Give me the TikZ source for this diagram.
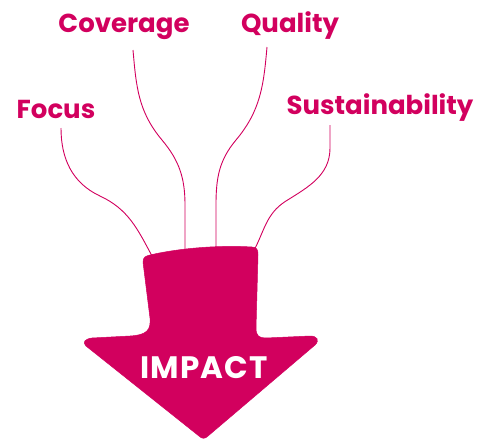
\documentclass[tikz,border=0pt]{standalone}
\usepackage{fontspec}
\setmainfont{Poppins}
\definecolor{impact}{HTML}{D2005E}
\tikzset{
  lbl/.style={text=impact, font=\fontsize{26}{29}\selectfont\bfseries, inner sep=0pt, anchor=base},
  link/.style={draw=impact, line width=0.9pt},
  arrowfill/.style={fill=impact, draw=impact, line width=0.5pt, line join=round}
}
\begin{document}
\begin{tikzpicture}[x=1pt,y=-1pt]
\useasboundingbox (0,0) rectangle (495,440);
% labels
\node[lbl] (coverage) at (124,32) {Coverage};
\node[lbl] (quality) at (290,32) {Quality};
\node[lbl] (focus) at (56,118) {Focus};
\node[lbl] (sust) at (380,114) {Sustainability};
% connector ends
\coordinate (fs) at (61,128);
\coordinate (cs) at (133,50);
\coordinate (qs) at (267,47);
\coordinate (ss) at (330,125);
\coordinate (fe) at (152,256);
\coordinate (ce) at (185,252);
\coordinate (qe) at (216,252);
\coordinate (se) at (252,254);
% connectors
\draw[link] (fs) to[out=-90,in=155] (100,196) to[out=-25,in=118] (fe);
\draw[link] (cs) to[out=-85,in=130] (162,140) to[out=-50,in=90] (185,205) -- (ce);
\draw[link] (qs) to[out=-95,in=50] (236,140) to[out=-130,in=90] (216,205) -- (qe);
\draw[link] (ss) -- (330,148) to[out=-90,in=32] (286,201) to[out=-148,in=60] (se);
% arrow
\path[arrowfill] (143,262)
  .. controls (143,257) and (146,256) .. (150,255)
  .. controls (180,248) and (220,245) .. (252,247)
  .. controls (257,247) and (258,250) .. (258,255)
  -- (256,328)
  .. controls (256,336) and (259,338) .. (266,338)
  -- (310,336)
  .. controls (317,336) and (320,340) .. (315,345)
  -- (208,436)
  .. controls (205,439) and (202,439) .. (199,436)
  -- (86,346)
  .. controls (82,342) and (85,339) .. (92,338)
  -- (130,336)
  .. controls (147,335) and (151,330) .. (150,318)
  -- (143,262) -- cycle;
\node[text=white, font=\fontsize{31}{34}\selectfont\bfseries\addfontfeatures{LetterSpace=4}, inner sep=0pt, anchor=base] (impact) at (204,378) {IMPACT};
\end{tikzpicture}
\end{document}
